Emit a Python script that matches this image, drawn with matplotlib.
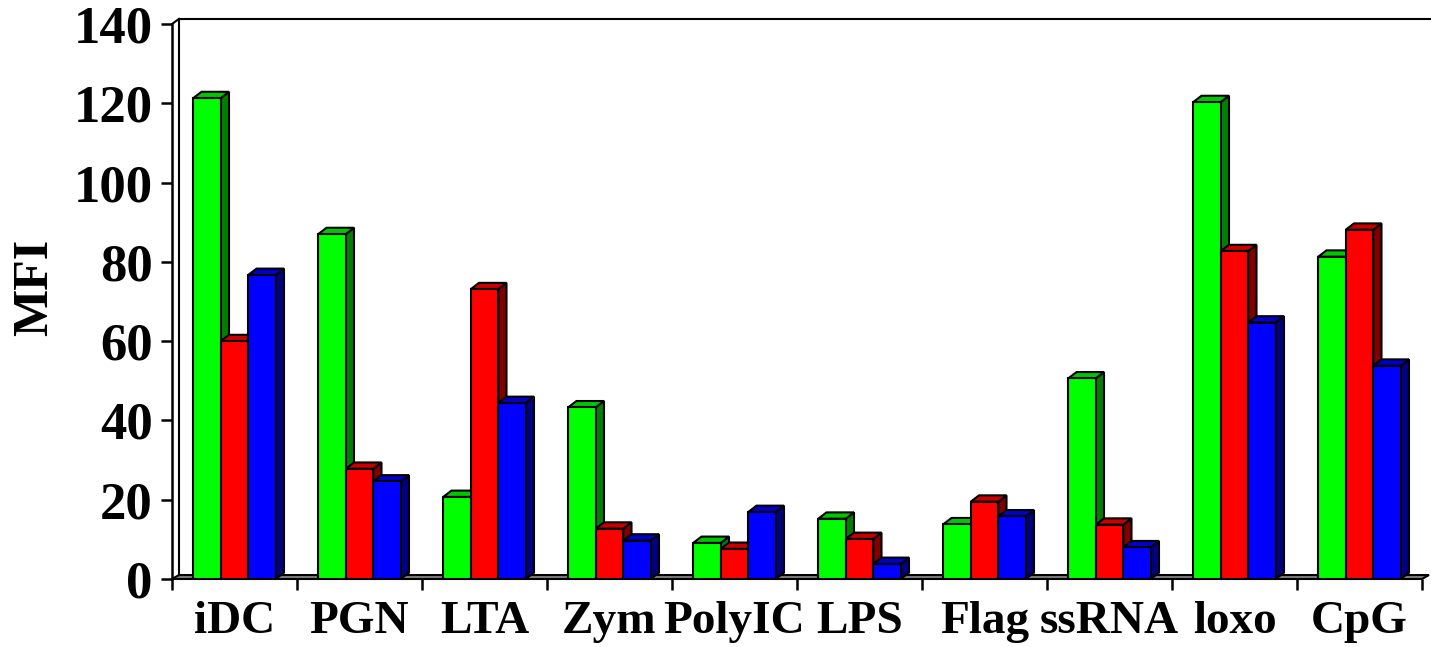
import matplotlib.pyplot as plt
import numpy as np
from matplotlib.patches import Polygon

categories = ['iDC', 'PGN', 'LTA', 'Zym', 'PolyIC', 'LPS', 'Flag', 'ssRNA', 'loxo', 'CpG']
green = [121.3, 87, 20.7, 43.3, 9.1, 15.2, 13.8, 50.6, 120.3, 81.3]
red = [60, 27.8, 73.1, 12.7, 7.6, 10.1, 19.5, 13.7, 82.7, 88.1]
blue = [76.7, 24.6, 44.4, 9.7, 16.9, 3.8, 15.8, 8.0, 64.7, 53.8]

series = [
    (green, '#00ff00', '#008000', '#00c800'),
    (red, '#ff0000', '#800000', '#c80000'),
    (blue, '#0000ff', '#000080', '#0000c8'),
]

plt.rcParams['font.family'] = 'Liberation Serif'
plt.rcParams['font.weight'] = 'bold'

W, H = 1431, 647
fig = plt.figure(figsize=(W / 100, H / 100), dpi=100)
ax = fig.add_axes([172 / W, (H - 579) / H, 1250 / W, 555 / H])

x = np.arange(len(categories))
bw = 0.22
# 3d depth of bars and of the wall/floor, in data units
ddx, ddy = 0.066, 1.6
wdx, wdy = 0.056, 1.0

ax.set_xlim(-0.5, len(categories) - 0.5)
ax.set_ylim(0, 140)

# floor
floor = Polygon([(-0.5, 0), (9.5, 0), (9.5 + wdx, wdy), (-0.5 + wdx, wdy)],
                closed=True, facecolor='#808080', edgecolor='black', lw=1.5,
                clip_on=False, zorder=1)
ax.add_patch(floor)
# back wall
ax.plot([-0.5 + wdx, -0.5 + wdx, 9.62], [wdy, 140 + wdy + 0.3, 140 + wdy + 0.3],
        color='black', lw=1.5, clip_on=False, zorder=1)
ax.plot([-0.5, -0.5 + wdx], [140, 140 + wdy + 0.3], color='black', lw=1.5,
        clip_on=False, zorder=1)

for i, (vals, front, side, top) in enumerate(series):
    xs = x + (i - 1) * bw
    bars = ax.bar(xs, vals, width=bw, color=front, edgecolor='black',
                  linewidth=1.5, zorder=3 + i)
    for b in bars:
        x0 = b.get_x()
        x1 = x0 + b.get_width()
        h = b.get_height()
        ax.add_patch(Polygon([(x1, 0), (x1 + ddx, ddy), (x1 + ddx, h + ddy), (x1, h)],
                             closed=True, facecolor=side, edgecolor='black',
                             lw=1.5, zorder=2.5 + i))
        ax.add_patch(Polygon([(x0, h), (x0 + ddx, h + ddy), (x1 + ddx, h + ddy), (x1, h)],
                             closed=True, facecolor=top, edgecolor='black',
                             lw=1.5, zorder=2.5 + i))

for s in ['top', 'right', 'bottom']:
    ax.spines[s].set_visible(False)
ax.spines['left'].set_linewidth(1.8)

ax.set_yticks(np.arange(0, 141, 20))
ax.tick_params(axis='y', direction='out', length=8, width=1.8, pad=6,
               labelsize=38)
ax.set_xticks(np.arange(-0.5, len(categories), 1))
ax.set_xticklabels([])
ax.tick_params(axis='x', which='major', direction='out', length=8, width=1.8)
ax.set_xticks(x, minor=True)
ax.set_xticklabels(categories, minor=True, fontsize=34)
ax.tick_params(axis='x', which='minor', length=0, pad=16)

ax.set_ylabel('MFI', fontsize=36, fontweight='bold')
ax.yaxis.set_label_coords(-0.0915, 0.526)

fig.savefig('out.png', dpi=100)
